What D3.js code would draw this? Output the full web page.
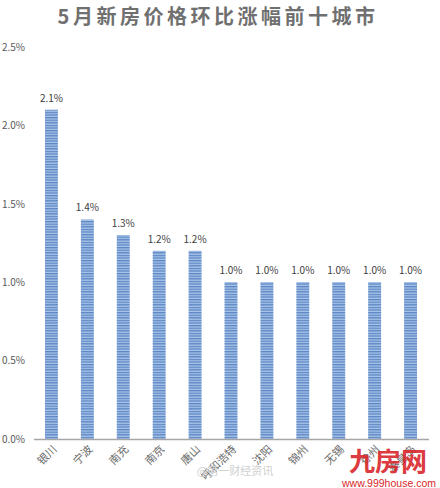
<!DOCTYPE html>
<html><head><meta charset="utf-8">
<script src="https://cdn.jsdelivr.net/npm/d3@7"></script>
<style>body{margin:0;background:#fff;} svg{display:block;}</style>
</head><body>
<svg id="c" width="440" height="488"></svg>
<script>
const title = "5月新房价格环比涨幅前十城市";
const cities = ["银川","宁波","南充","南京","唐山","呼和浩特","沈阳","锦州","无锡","徐州","秦皇岛"];
const values = [2.1,1.4,1.3,1.2,1.2,1.0,1.0,1.0,1.0,1.0,1.0];
const yTicks = [0,0.5,1.0,1.5,2.0,2.5];

const svg = d3.select("#c");
const font = "'Microsoft YaHei','Noto Sans CJK SC',sans-serif";

const defs = svg.append("defs");
const pat = defs.append("pattern").attr("id","stripe").attr("patternUnits","userSpaceOnUse")
  .attr("width",4).attr("height",2.6);
pat.append("rect").attr("width",4).attr("height",2.6).attr("fill","#a9c4e8");
pat.append("rect").attr("width",4).attr("height",1.3).attr("fill","#5b87c5");

const x = d3.scaleBand().domain(cities).range([33.5,428.5]).paddingInner(0.64).paddingOuter(0.32);
const y = d3.scaleLinear().domain([0,2.5]).range([439,47]);

svg.append("text").attr("x",218).attr("y",24).attr("text-anchor","middle")
  .attr("font-family",font).attr("font-weight","bold").attr("font-size",20)
  .attr("letter-spacing",3.5).attr("fill","#707070").text(title);

// y axis labels
const yAxis = d3.axisLeft(y).tickValues(yTicks).tickFormat(d=>d.toFixed(1)+"%").tickSize(0).tickPadding(0);
const yg = svg.append("g").attr("transform","translate(25,0)").call(yAxis);
yg.select(".domain").remove();
yg.selectAll("text").attr("font-family",font).attr("font-size",10).attr("fill","#595959");

// bars
svg.selectAll("rect.bar").data(values).join("rect").attr("class","bar")
  .attr("x",(d,i)=>x(cities[i])).attr("width",x.bandwidth())
  .attr("y",d=>y(d)).attr("height",d=>y(0)-y(d)).attr("fill","url(#stripe)");

svg.selectAll("text.val").data(values).join("text").attr("class","val")
  .attr("x",(d,i)=>x(cities[i])+x.bandwidth()/2).attr("y",d=>y(d)-8)
  .attr("text-anchor","middle").attr("font-family",font).attr("font-size",10).attr("fill","#404040")
  .text(d=>d.toFixed(1)+"%");

// x axis
const xAxis = d3.axisBottom(x).tickSize(0).tickPadding(0);
const xg = svg.append("g").attr("transform","translate(0,439)").call(xAxis);
xg.select(".domain").attr("stroke","#a6a6a6").attr("stroke-width",1.5);
xg.selectAll("text").attr("font-family",font).attr("font-size",11).attr("fill","#6a6a6a")
  .attr("text-anchor","end").attr("dy","0")
  .attr("transform","translate(6,11) rotate(-45)");

// watermark
svg.append("text").attr("x",388).attr("y",471).attr("text-anchor","middle")
  .attr("font-family",font).attr("font-weight","bold").attr("font-size",26)
  .attr("fill","#d9262b").attr("opacity",0.9).text("九房网");
svg.append("text").attr("x",389).attr("y",487).attr("text-anchor","middle")
  .attr("font-family","Arial, 'Liberation Sans', sans-serif").attr("font-size",10.5)
  .attr("fill","#d9262b").text("www.999house.com");
svg.append("text").attr("x",235).attr("y",475).attr("text-anchor","middle")
  .attr("font-family",font).attr("font-size",11).attr("fill","#d0d0d0").text("@第一财经资讯");
</script>
</body></html>
